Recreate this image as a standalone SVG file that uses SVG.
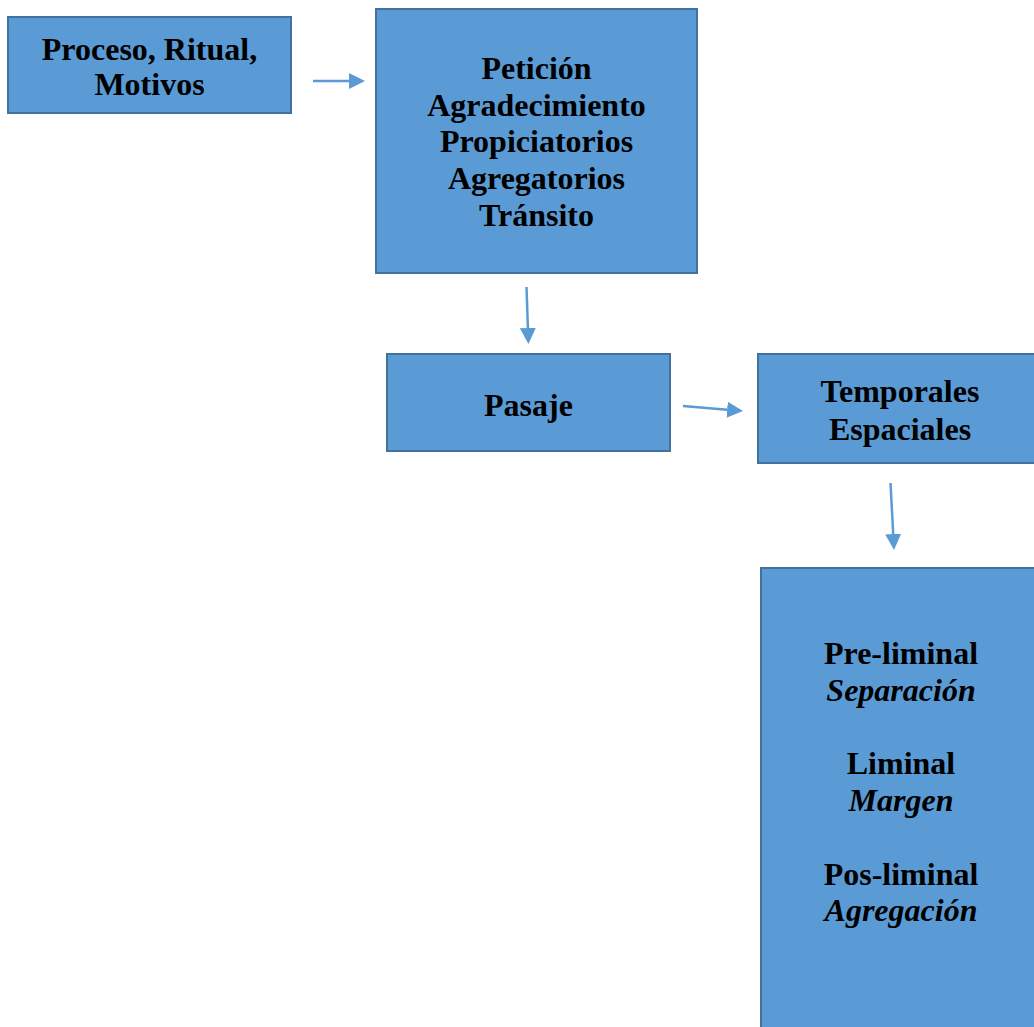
<svg xmlns="http://www.w3.org/2000/svg" width="1034" height="1027" viewBox="0 0 1034 1027">
<defs>
<style>
.box{fill:#5B9BD5;stroke:#41719C;stroke-width:2}
.t{font-family:"Liberation Serif","Times New Roman",serif;font-size:32px;font-weight:bold;fill:#000;text-anchor:middle}
.i{font-style:italic}
.c{stroke:#5B9BD5;stroke-width:2.5;fill:none;marker-end:url(#ah)}
</style>
<marker id="ah" markerUnits="userSpaceOnUse" markerWidth="16" markerHeight="16" refX="0" refY="8" orient="auto" viewBox="0 0 16 16">
<path d="M0,0 L16,8 L0,16 z" fill="#5B9BD5"/>
</marker>
</defs>
<rect width="1034" height="1027" fill="#fff"/>
<g id="n1">
<rect class="box" x="8" y="17" width="283" height="96"/>
<text class="t" x="149.5" y="60">Proceso, Ritual,</text>
<text class="t" x="149.5" y="95">Motivos</text>
</g>
<g id="n2">
<rect class="box" x="376" y="9" width="321" height="264"/>
<text class="t" x="536.5" y="79">Petición</text>
<text class="t" x="536.5" y="116">Agradecimiento</text>
<text class="t" x="536.5" y="152">Propiciatorios</text>
<text class="t" x="536.5" y="189">Agregatorios</text>
<text class="t" x="536.5" y="226">Tránsito</text>
</g>
<g id="n3">
<rect class="box" x="387" y="354" width="283" height="97"/>
<text class="t" x="528.5" y="416">Pasaje</text>
</g>
<g id="n4">
<rect class="box" x="758" y="354" width="290" height="109"/>
<text class="t" x="900" y="402">Temporales</text>
<text class="t" x="900" y="440">Espaciales</text>
</g>
<g id="n5">
<rect class="box" x="761" y="568" width="290" height="480"/>
<text class="t" x="901" y="664">Pre-liminal</text>
<text class="t i" x="901" y="701">Separación</text>
<text class="t" x="901" y="774">Liminal</text>
<text class="t i" x="901" y="811">Margen</text>
<text class="t" x="901" y="885">Pos-liminal</text>
<text class="t i" x="901" y="921">Agregación</text>
</g>
<g id="connectors">
<line class="c" x1="313" y1="81" x2="349" y2="81"/>
<line class="c" x1="526.5" y1="287" x2="527.9" y2="328"/>
<line class="c" x1="683" y1="406" x2="727.1" y2="409.7"/>
<line class="c" x1="890.5" y1="483" x2="893.2" y2="534"/>
</g>
</svg>
